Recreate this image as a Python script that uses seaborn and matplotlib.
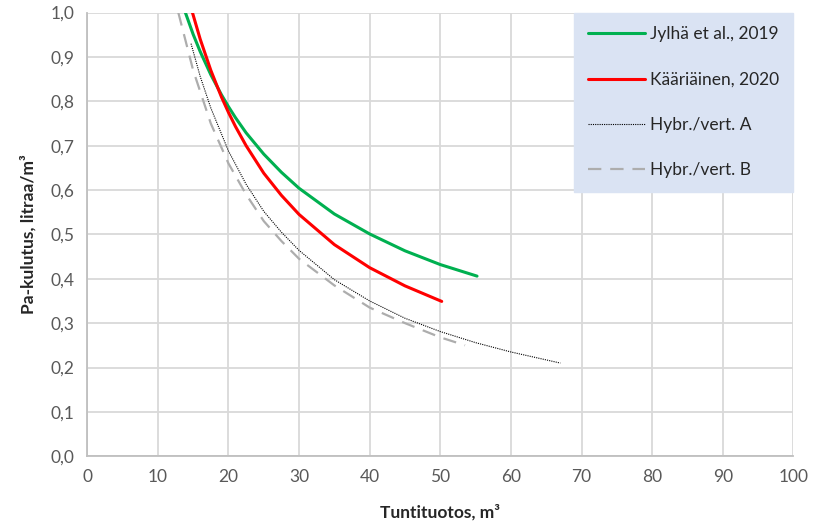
import numpy as np
import pandas as pd
import seaborn as sns
import matplotlib.pyplot as plt

jylha_x = [13.9, 15, 16, 17.5, 19, 20, 21, 22.5, 25, 27.5, 30, 35, 40, 45, 50, 55.2]
jylha_y = [1.0, 0.951, 0.912, 0.860, 0.815, 0.788, 0.763, 0.729, 0.681, 0.640,
           0.604, 0.546, 0.501, 0.463, 0.432, 0.406]

kaar_x = [14.9, 16, 17.5, 19, 20, 21, 22.5, 25, 27.5, 30, 35, 40, 45, 50.2]
kaar_y = [1.0, 0.940, 0.870, 0.810, 0.775, 0.743, 0.700, 0.638, 0.588, 0.545,
          0.477, 0.425, 0.384, 0.349]

hybr_a_x = [14.7, 16, 17.5, 20, 22.5, 25, 27.5, 30, 35, 40, 45, 50, 55, 60, 67]
hybr_a_y = [0.93, 0.856, 0.785, 0.688, 0.613, 0.552, 0.505, 0.464, 0.398, 0.350,
            0.311, 0.281, 0.256, 0.235, 0.21]

hybr_b_x = [12.9, 15, 17.5, 20, 22.5, 25, 27.5, 30, 35, 40, 45, 50, 53.5]
hybr_b_y = [1.0, 0.87, 0.75, 0.66, 0.59, 0.53, 0.485, 0.445, 0.385, 0.335, 0.30,
            0.268, 0.25]

x_ticks = list(range(0, 101, 10))
y_ticks = [i / 10 for i in range(11)]

sns.set_style("white")
plt.rcParams["font.family"] = ["Lato", "DejaVu Sans"]

fig, ax = plt.subplots(figsize=(8.23, 5.25), dpi=100)
fig.subplots_adjust(left=0.106, right=0.964, top=0.976, bottom=0.131)

series = [
    ("Jylhä et al., 2019", jylha_x, jylha_y, "#00B050", "-", 2.2),
    ("Kääriäinen, 2020", kaar_x, kaar_y, "#FF0000", "-", 2.2),
    ("Hybr./vert. A", hybr_a_x, hybr_a_y, "#000000", (0, (1, 1)), 0.8),
    ("Hybr./vert. B", hybr_b_x, hybr_b_y, "#ADADAD", (0, (6, 4)), 1.6),
]
for name, xs, ys, col, ls, lw in series:
    df = pd.DataFrame({"x": xs, "y": ys})
    sns.lineplot(data=df, x="x", y="y", ax=ax, color=col, linestyle=ls,
                 linewidth=lw, label=name, zorder=3)

ax.set_xlim(0, 100)
ax.set_ylim(0, 1.0)
ax.set_xticks(x_ticks)
ax.set_yticks(y_ticks)
ax.set_yticklabels([f"{v:.1f}".replace(".", ",") for v in y_ticks])
ax.grid(True, color="#D9D9D9", linewidth=1.3)
ax.set_axisbelow(True)
ax.tick_params(axis="both", colors="#595959", labelsize=12.5, length=0, pad=9)
for s in ["top", "right"]:
    ax.spines[s].set_visible(False)
for s in ["left", "bottom"]:
    ax.spines[s].set_color("#BFBFBF")
    ax.spines[s].set_linewidth(1.3)

ax.set_xlabel("Tuntituotos, m³", fontsize=12.5, fontweight="bold", labelpad=14)
ax.set_ylabel("Pa-kulutus, litraa/m³", fontsize=12.5, fontweight="bold", labelpad=10)

leg = ax.legend(loc="upper right", bbox_to_anchor=(1.0, 1.0), borderaxespad=0,
                frameon=True, fancybox=False, facecolor="#DAE3F3", edgecolor="#DAE3F3",
                fontsize=12.5, handlelength=3.3, labelspacing=1.68, borderpad=0.8,
                handletextpad=0.3)
leg.get_frame().set_alpha(1)
for t in leg.get_texts():
    t.set_color("#262626")

fig.savefig("out.png")
